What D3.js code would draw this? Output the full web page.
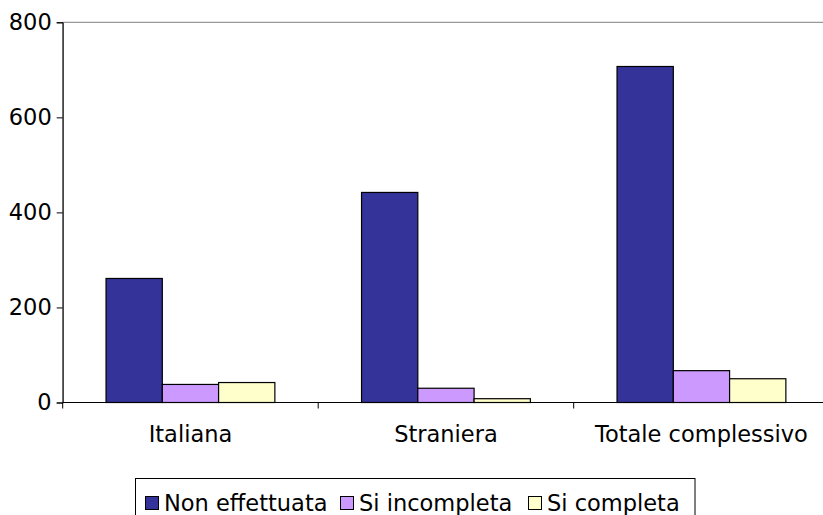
<!DOCTYPE html>
<html>
<head>
<meta charset="utf-8">
<script src="https://cdn.jsdelivr.net/npm/d3@7"></script>
<style>
  html, body { margin: 0; padding: 0; background: #fff; }
  svg { display: block; }
  text { font-family: "DejaVu Sans", Verdana, sans-serif; font-size: 22.5px; fill: #000; }
</style>
</head>
<body>
<svg id="chart" width="823" height="515"></svg>
<script>
const categories = ["Italiana", "Straniera", "Totale complessivo"];
const seriesNames = ["Non effettuata", "Si incompleta", "Si completa"];
const nonEffettuata = [261, 442, 707];
const siIncompleta = [38, 30, 67];
const siCompleta = [42, 8, 50];
const yTicks = [0, 200, 400, 600, 800];
const colors = ["#333399", "#CC99FF", "#FFFFCC"];

const seriesValues = [nonEffettuata, siIncompleta, siCompleta];

const svg = d3.select("#chart");
const plotL = 62.7, plotR = 829.2, plotT = 22.3, plotB = 402.5;

const x0 = d3.scaleBand().domain(categories).range([plotL, plotR]).paddingInner(0).paddingOuter(0);
const x1 = d3.scaleBand().domain(seriesNames).range([0, x0.bandwidth()]).paddingInner(0).paddingOuter(0.77);
const y = d3.scaleLinear().domain([0, 800]).range([plotB, plotT]);
const color = d3.scaleOrdinal().domain(seriesNames).range(colors);

// plot area border (gray)
svg.append("rect")
  .attr("x", plotL).attr("y", plotT)
  .attr("width", plotR - plotL).attr("height", plotB - plotT)
  .attr("fill", "none").attr("stroke", "#808080").attr("stroke-width", 1);

// bars
const data = [];
categories.forEach((c, i) => {
  seriesNames.forEach((s, j) => data.push({ cat: c, ser: s, val: seriesValues[j][i] }));
});
svg.append("g").selectAll("rect").data(data).join("rect")
  .attr("x", d => x0(d.cat) + x1(d.ser))
  .attr("y", d => y(d.val))
  .attr("width", x1.bandwidth())
  .attr("height", d => y(0) - y(d.val))
  .attr("fill", d => color(d.ser))
  .attr("stroke", "#000").attr("stroke-width", 1.2);

// y axis
const yAxis = d3.axisLeft(y).tickValues(yTicks).tickSize(6).tickPadding(5).tickFormat(d3.format("d"));
const gy = svg.append("g").attr("transform", `translate(${plotL},0)`).call(yAxis);
gy.select(".domain").attr("stroke", "#000");
gy.selectAll(".tick line").attr("stroke", "#000");
gy.selectAll("text").attr("font-size", 22.5).attr("font-family", "DejaVu Sans, Verdana, sans-serif").attr("fill", "#000");

// x axis baseline
svg.append("line")
  .attr("x1", plotL).attr("x2", plotR)
  .attr("y1", y(0)).attr("y2", y(0))
  .attr("stroke", "#000").attr("stroke-width", 1);

// x ticks at category boundaries
const boundaries = categories.map(c => x0(c)).concat([x0.range()[1]]);
svg.append("g").selectAll("line").data(boundaries).join("line")
  .attr("x1", d => d).attr("x2", d => d)
  .attr("y1", y(0)).attr("y2", y(0) + 6)
  .attr("stroke", "#000");

// category labels
svg.append("g").selectAll("text").data(categories).join("text")
  .attr("x", d => x0(d) + x0.bandwidth() / 2)
  .attr("y", 441.5)
  .attr("text-anchor", "middle")
  .text(d => d);

// legend
const lg = svg.append("g");
lg.append("rect")
  .attr("x", 135.5).attr("y", 478.5)
  .attr("width", 559.5).attr("height", 60)
  .attr("fill", "#fff").attr("stroke", "#000").attr("stroke-width", 1);
const legendX = [145, 340, 528];
const items = lg.selectAll("g.item").data(seriesNames).join("g")
  .attr("class", "item")
  .attr("transform", (d, i) => `translate(${legendX[i]},0)`);
items.append("rect")
  .attr("x", 0.5).attr("y", 496.5)
  .attr("width", 13).attr("height", 13)
  .attr("fill", d => color(d)).attr("stroke", "#000").attr("stroke-width", 1);
items.append("text")
  .attr("x", 19).attr("y", 510.5)
  .text(d => d);
</script>
</body>
</html>
